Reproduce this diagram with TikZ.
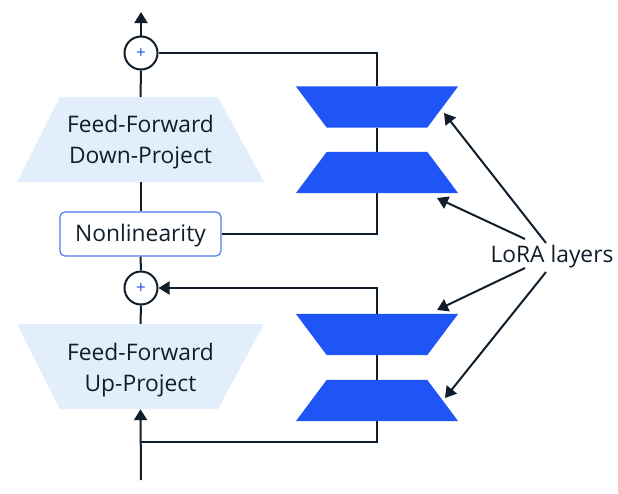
\documentclass[tikz,border=0pt]{standalone}
\usepackage{fontspec}
\setmainfont{Open Sans}
\usetikzlibrary{arrows.meta}
\definecolor{ink}{HTML}{0F1E2A}
\definecolor{lora}{HTML}{1F55F6}
\definecolor{pale}{HTML}{E3EEFC}
\definecolor{nlb}{HTML}{4B7BEC}
\begin{document}
\begin{tikzpicture}[x=1pt,y=-1pt,
  con/.style={draw=ink, line width=2pt},
  tip/.style={-{Triangle[length=11pt,width=13pt]}},
  lbl/.style={font=\fontsize{22.8}{31}\selectfont, text=ink, align=center},
  sum/.style={circle, draw=ink, line width=2pt, fill=white, minimum size=33pt, inner sep=0pt, font=\fontsize{17}{17}\selectfont, text=lora},
  ffbox/.style={lbl, minimum width=247pt, minimum height=85pt, inner sep=0pt},
  lorabox/.style={minimum width=162pt, minimum height=41pt, inner sep=0pt},
  nlbox/.style={lbl, draw=nlb, line width=1.2pt, rounded corners=5pt, fill=white, minimum width=161pt, minimum height=44pt, inner sep=0pt}
]
\useasboundingbox (0,0) rectangle (618,493);

% feed-forward blocks
\fill[pale] (60,97) -- (218,97) -- (264,182) -- (17,182) -- cycle;
\node[ffbox] (down) at (140.5,139.5) {};
\node[lbl] at (140.5,142.5) {Feed-Forward\\Down-Project};
\fill[pale] (17,324) -- (264,324) -- (218,409) -- (60,409) -- cycle;
\node[ffbox] (up) at (140.5,366.5) {};
\node[lbl] at (140.5,370) {Feed-Forward\\Up-Project};

% sums and nonlinearity
\node[sum] (s1) at (141,53) {+};
\node[sum] (s2) at (141,288) {+};
\node[nlbox] (nl) at (140.5,234) {};
\node[lbl] at (140.5,236) {Nonlinearity};

% LoRA layer boxes
\node[lorabox] (l1) at (377,107) {};
\node[lorabox] (l2) at (377,172.5) {};
\node[lorabox] (l3) at (377,334.5) {};
\node[lorabox] (l4) at (377,400.5) {};

% coordinates
\coordinate (out) at (141,12);
\coordinate (in) at (141,480);
\coordinate (j) at (141,442);

% connectors (behind LoRA fills)
\draw[con] (s1.east) -| (l1.north);
\draw[con] (l1.south) -- (l2.north);
\draw[con] (l2.south) |- (nl.east);
\draw[con,tip] (l3.north) |- (s2.east);
\draw[con] (l3.south) -- (l4.north);
\draw[con] (l4.south) |- (j);
\draw[con,tip] (in) -- (up.south);
\draw[con,tip] (s1.north) -- (out);
\draw[con] (down.north) -- (s1.south);
\draw[con] (down.south) -- (nl.north);
\draw[con] (nl.south) -- (s2.north);
\draw[con] (s2.south) -- (up.north);

% LoRA trapezoids
\fill[lora] (l1.north west) -- (l1.north east) -- ([xshift=-31pt]l1.south east) -- ([xshift=31pt]l1.south west) -- cycle;
\fill[lora] ([xshift=31pt]l2.north west) -- ([xshift=-31pt]l2.north east) -- (l2.south east) -- (l2.south west) -- cycle;
\fill[lora] (l3.north west) -- (l3.north east) -- ([xshift=-31pt]l3.south east) -- ([xshift=31pt]l3.south west) -- cycle;
\fill[lora] ([xshift=31pt]l4.north west) -- ([xshift=-31pt]l4.north east) -- (l4.south east) -- (l4.south west) -- cycle;

% LoRA label and pointers
\node[lbl] (lora) at (552,257) {LoRA layers};
\coordinate (a1) at (546,243);
\coordinate (a2) at (525,239);
\coordinate (a3) at (525,268);
\coordinate (a4) at (546,272);
\coordinate (t1) at (444,113);
\coordinate (t2) at (437,198);
\coordinate (t3) at (437,310);
\coordinate (t4) at (445,398);
\draw[con,tip] (a1) -- (t1);
\draw[con,tip] (a2) -- (t2);
\draw[con,tip] (a3) -- (t3);
\draw[con,tip] (a4) -- (t4);
\end{tikzpicture}
\end{document}
